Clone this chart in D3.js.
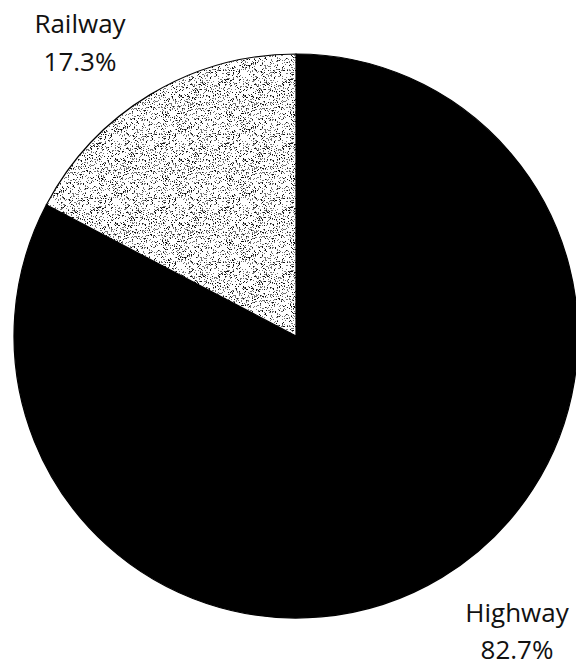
<!DOCTYPE html>
<html><head><meta charset="utf-8">
<script src="https://cdn.jsdelivr.net/npm/d3@7"></script>
<style>body{margin:0;background:#fff}svg{display:block}</style>
</head><body>
<svg id="c" width="576" height="667"></svg>
<script>
const categories = ["Highway", "Railway"];
const values = [82.7, 17.3];
const labels = ["82.7%", "17.3%"];

const svg = d3.select("#c");
const cx = 296, cy = 336, r = 282;

// speckle texture pattern (deterministic hash)
const defs = svg.append("defs");
const pat = defs.append("pattern").attr("id","speck").attr("patternUnits","userSpaceOnUse")
  .attr("width",64).attr("height",64);
pat.append("rect").attr("width",64).attr("height",64).attr("fill","#fff");
function h(i){ let x = Math.sin(i*12.9898+78.233)*43758.5453; return x-Math.floor(x); }
const dots = [];
for (let y=0;y<64;y++) for (let x=0;x<64;x++){
  const v = h(x*131+y*17+7);
  if (v < 0.22) dots.push([x,y, v<0.08 ? "#111" : "#777"]);
}
pat.selectAll("rect.d").data(dots).enter().append("rect").attr("class","d")
  .attr("x",d=>d[0]).attr("y",d=>d[1]).attr("width",1).attr("height",1).attr("fill",d=>d[2]);

const pie = d3.pie().sort(null).value(d=>d.v);
const data = categories.map((c,i)=>({c, v:values[i], l:labels[i]}));
const arcs = pie(data);
const arc = d3.arc().innerRadius(0).outerRadius(r);
const g = svg.append("g").attr("transform",`translate(${cx},${cy})`);
g.selectAll("path").data(arcs).enter().append("path")
  .attr("d",arc)
  .attr("fill",d=>d.data.c==="Highway" ? "#000" : "url(#speck)")
  .attr("stroke","#000").attr("stroke-width",1.2);

const font = "'Open Sans', sans-serif";
const labelPos = {"Railway":[80,33,71], "Highway":[517,622,659]};
data.forEach(d=>{
  const p = labelPos[d.c];
  const t = svg.append("text").attr("text-anchor","middle").attr("font-family",font)
    .attr("font-size",26).attr("fill","#111");
  t.append("tspan").attr("x",p[0]).attr("y",p[1]).text(d.c);
  t.append("tspan").attr("x",p[0]).attr("y",p[2]).text(d.l);
});
</script>
</body></html>
